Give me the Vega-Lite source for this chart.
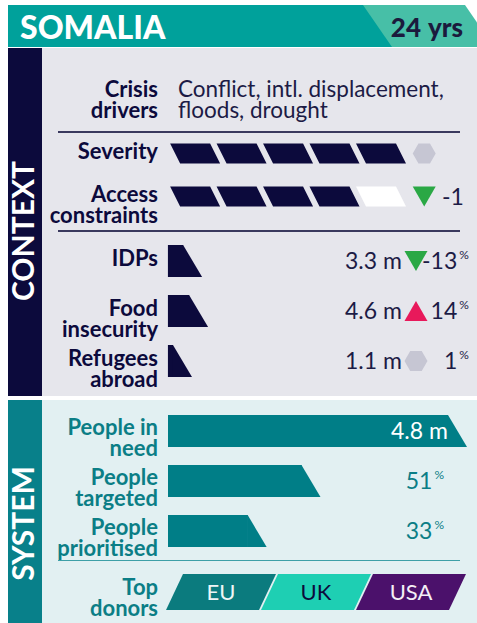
{
  "$schema": "https://vega.github.io/schema/vega-lite/v6.json",
  "padding": {"left": 8, "top": 5, "right": 0, "bottom": 0},
  "background": "#ffffff",
  "config": {"view": {"stroke": null}, "font": "Lato"},
  "resolve": {"scale": {"color": "independent", "fill": "independent", "shape": "independent"}},
  "datasets": {
    "header": [{"country": "SOMALIA", "years": 24}],
    "sections": [{"section": "CONTEXT"}, {"section": "SYSTEM"}],
    "separators": [{"section": "CONTEXT"}],
    "drivers": [{"indicator": "Crisis\ndrivers", "drivers": "Conflict, intl. displacement,\nfloods, drought"}],
    "levels": [
      {"indicator": "Severity", "level": 5, "trend": "stable"},
      {"indicator": "Access\nconstraints", "level": 4, "change": -1, "trend": "down"}
    ],
    "segments": [
      {"indicator": "Severity", "step": 1, "status": "filled"},
      {"indicator": "Severity", "step": 2, "status": "filled"},
      {"indicator": "Severity", "step": 3, "status": "filled"},
      {"indicator": "Severity", "step": 4, "status": "filled"},
      {"indicator": "Severity", "step": 5, "status": "filled"},
      {"indicator": "Access\nconstraints", "step": 1, "status": "filled"},
      {"indicator": "Access\nconstraints", "step": 2, "status": "filled"},
      {"indicator": "Access\nconstraints", "step": 3, "status": "filled"},
      {"indicator": "Access\nconstraints", "step": 4, "status": "filled"},
      {"indicator": "Access\nconstraints", "step": 5, "status": "empty"}
    ],
    "displacement": [
      {"indicator": "IDPs", "people": 3.3, "change": -13, "trend": "down"},
      {"indicator": "Food\ninsecurity", "people": 4.6, "change": 14, "trend": "up"},
      {"indicator": "Refugees\nabroad", "people": 1.1, "change": 1, "trend": "stable"}
    ],
    "system": [
      {"indicator": "People in\nneed", "share": 100, "people": 4.8},
      {"indicator": "People\ntargeted", "share": 51},
      {"indicator": "People\nprioritised", "share": 33}
    ],
    "donors": [
      {"rank": 1, "donor": "EU"},
      {"rank": 2, "donor": "UK"},
      {"rank": 3, "donor": "USA"}
    ],
    "donorLabel": [{"indicator": "Top\ndonors"}]
  },
  "vconcat": [
    {
      "vconcat": [
        {
          "width": 469, "height": 42,
          "data": {"name": "header"},
          "layer": [
            {"mark": {"type": "point", "shape": "M0,-21L362,-21L391,21L0,21Z", "size": 4, "filled": true, "fill": "#00a19b", "opacity": 1, "strokeWidth": 0},
             "encoding": {"x": {"datum": 0, "type": "quantitative", "scale": {"domain": [0, 1], "nice": false, "zero": false}, "axis": null}}},
            {"mark": {"type": "point", "shape": "M-114,-21L-12,-21L0,-3.6L0,21L-85,21Z", "size": 4, "filled": true, "fill": "#47bfa7", "opacity": 1, "strokeWidth": 0},
             "encoding": {"x": {"datum": 1, "type": "quantitative", "axis": null}}},
            {"mark": {"type": "text", "align": "left", "baseline": "middle", "dx": 12, "dy": 3, "fontSize": 32, "fontWeight": 900, "fill": "#ffffff"},
             "encoding": {"x": {"datum": 0, "type": "quantitative", "axis": null}, "text": {"field": "country", "type": "nominal"}}},
            {"mark": {"type": "text", "align": "right", "baseline": "middle", "dx": -56, "dy": 3, "fontSize": 26, "fontWeight": 900, "fill": "#1b1a3d"},
             "encoding": {"x": {"datum": 1, "type": "quantitative", "axis": null}, "text": {"field": "years", "type": "nominal"}}},
            {"mark": {"type": "text", "align": "right", "baseline": "middle", "dx": -14, "dy": 3, "fontSize": 26, "fontWeight": 900, "fill": "#1b1a3d", "text": "yrs"},
             "encoding": {"x": {"datum": 1, "type": "quantitative", "axis": null}}}
          ]
        },
        {
          "hconcat": [
            {
              "width": 34, "height": 348,
              "view": {"fill": "#0c0a3c", "stroke": null},
              "data": {"name": "sections"},
              "transform": [{"filter": "datum.section == 'CONTEXT'"}],
              "mark": {"type": "text", "angle": 270, "baseline": "middle", "align": "center", "fontSize": 30, "fontWeight": "bold", "fill": "#ffffff", "dx": -9},
              "encoding": {"text": {"field": "section", "type": "nominal"}}
            },
            {
              "vconcat": [
                {
                  "width": 435, "height": 83,
                  "view": {"fill": "#e6e6ec", "stroke": null},
                  "data": {"name": "drivers"},
                  "layer": [
                    {"mark": {"type": "text", "align": "right", "baseline": "middle", "lineBreak": "\n", "lineHeight": 21, "fontSize": 22, "fontWeight": "bold", "fill": "#0c0a3c", "dy": 0},
                     "encoding": {"x": {"datum": 0, "type": "quantitative", "scale": {"domain": [0, 1], "range": [116, 136], "nice": false, "zero": false}, "axis": null},
                                  "text": {"field": "indicator", "type": "nominal"}}},
                    {"mark": {"type": "text", "align": "left", "baseline": "middle", "lineBreak": "\n", "lineHeight": 21, "fontSize": 22.5, "fontWeight": "normal", "fill": "#1c1b45", "dy": 0},
                     "encoding": {"x": {"datum": 1, "type": "quantitative", "axis": null},
                                  "text": {"field": "drivers", "type": "nominal"}}}
                  ]
                },
                {
                  "width": 435, "height": 2,
                  "view": {"fill": "#e6e6ec", "stroke": null},
                  "data": {"name": "separators"},
                  "mark": {"type": "rect", "color": "#3a395e"},
                  "encoding": {
                    "x": {"datum": 0, "type": "quantitative", "scale": {"domain": [0, 1], "range": [16, 418], "nice": false, "zero": false}, "axis": null},
                    "x2": {"datum": 1}
                  }
                },
                {
                  "width": 435, "height": 97,
                  "view": {"fill": "#e6e6ec", "stroke": null},
                  "layer": [
                    {"data": {"name": "segments"},
                     "mark": {"type": "point", "shape": "M-25,-10L15,-10L25,10L-15,10Z", "size": 4, "filled": true, "opacity": 1, "strokeWidth": 0},
                     "encoding": {
                       "x": {"field": "step", "type": "quantitative", "scale": {"domain": [-1.95, 6.7], "range": [16, 418], "nice": false, "zero": false}, "axis": null},
                       "y": {"field": "indicator", "type": "nominal", "scale": {"type": "point", "domain": ["Severity", "Access\nconstraints"], "range": [20.5, 63.5], "padding": 0}, "axis": null},
                       "fill": {"field": "status", "type": "nominal", "scale": {"domain": ["filled", "empty"], "range": ["#0c0a3c", "#ffffff"]}, "legend": null}
                     }},
                    {"data": {"name": "levels"},
                     "mark": {"type": "point", "size": 4, "filled": true, "opacity": 1, "strokeWidth": 0},
                     "encoding": {
                       "x": {"datum": 5.93, "type": "quantitative", "axis": null},
                       "y": {"field": "indicator", "type": "nominal", "axis": null},
                       "shape": {"field": "trend", "type": "nominal", "scale": {"domain": ["down", "up", "stable"], "range": ["M-11.5,-10L11.5,-10L0,10Z", "M-11.5,10L11.5,10L0,-10Z", "M-11.5,0L-5.75,-10L5.75,-10L11.5,0L5.75,10L-5.75,10Z"]}, "legend": null},
                       "color": {"field": "trend", "type": "nominal", "scale": {"domain": ["down", "up", "stable"], "range": ["#2aa845", "#e8195b", "#c6c6d3"]}, "legend": null}
                     }},
                    {"data": {"name": "levels"},
                     "mark": {"type": "text", "align": "right", "baseline": "middle", "lineBreak": "\n", "lineHeight": 21, "fontSize": 22, "fontWeight": "bold", "fill": "#0c0a3c", "dy": -2},
                     "encoding": {
                       "x": {"datum": 0.2, "type": "quantitative", "axis": null},
                       "y": {"field": "indicator", "type": "nominal", "axis": null},
                       "text": {"field": "indicator", "type": "nominal"}
                     }},
                    {"data": {"name": "levels"},
                     "transform": [{"filter": "isValid(datum.change)"}],
                     "mark": {"type": "text", "align": "left", "baseline": "middle", "fontSize": 23, "fontWeight": "normal", "fill": "#1c1b45", "dy": 1},
                     "encoding": {
                       "x": {"datum": 6.31, "type": "quantitative", "axis": null},
                       "y": {"field": "indicator", "type": "nominal", "axis": null},
                       "text": {"field": "change", "type": "nominal"}
                     }}
                  ]
                },
                {
                  "width": 435, "height": 2,
                  "view": {"fill": "#e6e6ec", "stroke": null},
                  "data": {"name": "separators"},
                  "mark": {"type": "rect", "color": "#3a395e"},
                  "encoding": {
                    "x": {"datum": 0, "type": "quantitative", "scale": {"domain": [0, 1], "range": [16, 418], "nice": false, "zero": false}, "axis": null},
                    "x2": {"datum": 1}
                  }
                },
                {
                  "width": 435, "height": 164,
                  "view": {"fill": "#e6e6ec", "stroke": null},
                  "data": {"name": "displacement"},
                  "layer": [
                    {"mark": {"type": "bar", "color": "#0c0a3c"},
                     "encoding": {
                       "x": {"field": "people", "type": "quantitative", "scale": {"domain": [-23.9, 63.5], "range": [16, 418], "nice": false, "zero": false}, "axis": null},
                       "x2": {"datum": 0},
                       "y": {"field": "indicator", "type": "nominal", "scale": {"type": "band", "domain": ["IDPs", "Food\ninsecurity", "Refugees\nabroad"], "range": [4, 154], "paddingInner": 0.36, "paddingOuter": 0.18}, "axis": null}
                     }},
                    {"mark": {"type": "point", "shape": "M-0.6,-16L0,-16L19,16L-0.6,16Z", "size": 4, "filled": true, "opacity": 1, "strokeWidth": 0, "fill": "#0c0a3c"},
                     "encoding": {
                       "x": {"field": "people", "type": "quantitative", "axis": null},
                       "y": {"field": "indicator", "type": "nominal", "axis": null}
                     }},
                    {"mark": {"type": "text", "align": "right", "baseline": "middle", "lineBreak": "\n", "lineHeight": 21, "fontSize": 22, "fontWeight": "bold", "fill": "#0c0a3c", "dy": -2},
                     "encoding": {
                       "x": {"datum": -2.16, "type": "quantitative", "axis": null},
                       "y": {"field": "indicator", "type": "nominal", "axis": null},
                       "text": {"field": "indicator", "type": "nominal"}
                     }},
                    {"mark": {"type": "text", "align": "right", "baseline": "middle", "fontSize": 23, "fontWeight": "normal", "fill": "#1c1b45", "dy": 1},
                     "encoding": {
                       "x": {"datum": 45.46, "type": "quantitative", "axis": null},
                       "y": {"field": "indicator", "type": "nominal", "axis": null},
                       "text": {"field": "people", "type": "nominal"}
                     }},
                    {"mark": {"type": "text", "align": "right", "baseline": "middle", "fontSize": 23, "fontWeight": "normal", "fill": "#1c1b45", "dy": 1, "text": "m"},
                     "encoding": {
                       "x": {"datum": 50.89, "type": "quantitative", "axis": null},
                       "y": {"field": "indicator", "type": "nominal", "axis": null}
                     }},
                    {"mark": {"type": "point", "size": 4, "filled": true, "opacity": 1, "strokeWidth": 0},
                     "encoding": {
                       "x": {"datum": 53.93, "type": "quantitative", "axis": null},
                       "y": {"field": "indicator", "type": "nominal", "axis": null},
                       "shape": {"field": "trend", "type": "nominal", "scale": {"domain": ["down", "up", "stable"], "range": ["M-11.5,-10L11.5,-10L0,10Z", "M-11.5,10L11.5,10L0,-10Z", "M-11.5,0L-5.75,-10L5.75,-10L11.5,0L5.75,10L-5.75,10Z"]}, "legend": null},
                       "color": {"field": "trend", "type": "nominal", "scale": {"domain": ["down", "up", "stable"], "range": ["#2aa845", "#e8195b", "#c6c6d3"]}, "legend": null}
                     }},
                    {"mark": {"type": "text", "align": "right", "baseline": "middle", "fontSize": 23, "fontWeight": "normal", "fill": "#1c1b45", "dy": 1},
                     "encoding": {
                       "x": {"datum": 62.9, "type": "quantitative", "axis": null},
                       "y": {"field": "indicator", "type": "nominal", "axis": null},
                       "text": {"field": "change", "type": "nominal"}
                     }},
                    {"mark": {"type": "text", "align": "left", "baseline": "middle", "fontSize": 12, "fontWeight": "normal", "fill": "#1c1b45", "dy": -6, "text": "%"},
                     "encoding": {
                       "x": {"datum": 63.35, "type": "quantitative", "axis": null},
                       "y": {"field": "indicator", "type": "nominal", "axis": null}
                     }}
                  ]
                }
              ],
              "spacing": 0,
              "bounds": "flush"
            }
          ],
          "spacing": 0
        }
      ],
      "spacing": 1
    },
    {
      "hconcat": [
        {
          "width": 34, "height": 223,
          "view": {"fill": "#08808a", "stroke": null},
          "data": {"name": "sections"},
          "transform": [{"filter": "datum.section == 'SYSTEM'"}],
          "mark": {"type": "text", "angle": 270, "baseline": "middle", "align": "center", "fontSize": 30, "fontWeight": "bold", "fill": "#ffffff", "dx": -12},
          "encoding": {"text": {"field": "section", "type": "nominal"}}
        },
        {
          "vconcat": [
            {
              "width": 435, "height": 160,
              "view": {"fill": "#e2f0f2", "stroke": null},
              "data": {"name": "system"},
              "layer": [
                {"mark": {"type": "bar", "color": "#007e87", "xOffset": -19},
                 "encoding": {
                   "x": {"field": "share", "type": "quantitative", "scale": {"domain": [0, 100], "range": [126, 425], "nice": false, "zero": false}, "axis": null},
                   "x2": {"datum": 0},
                   "y": {"field": "indicator", "type": "nominal", "scale": {"type": "band", "domain": ["People in\nneed", "People\ntargeted", "People\nprioritised"], "range": [6, 156], "paddingInner": 0.36, "paddingOuter": 0.18}, "axis": null}
                 }},
                {"mark": {"type": "point", "shape": "M-19.6,-16L-19,-16L0,16L-19.6,16Z", "size": 4, "filled": true, "opacity": 1, "strokeWidth": 0, "fill": "#007e87"},
                 "encoding": {
                   "x": {"field": "share", "type": "quantitative", "axis": null},
                   "y": {"field": "indicator", "type": "nominal", "axis": null}
                 }},
                {"mark": {"type": "text", "align": "right", "baseline": "middle", "lineBreak": "\n", "lineHeight": 21, "fontSize": 22, "fontWeight": "bold", "fill": "#0b7e86", "dy": -3},
                 "encoding": {
                   "x": {"datum": -3.34, "type": "quantitative", "axis": null},
                   "y": {"field": "indicator", "type": "nominal", "axis": null},
                   "text": {"field": "indicator", "type": "nominal"}
                 }},
                {"transform": [{"filter": "isValid(datum.people)"}],
                 "mark": {"type": "text", "align": "right", "baseline": "middle", "fontSize": 23, "fontWeight": "normal", "fill": "#ffffff", "dy": 1},
                 "encoding": {
                   "x": {"datum": 85.28, "type": "quantitative", "axis": null},
                   "y": {"field": "indicator", "type": "nominal", "axis": null},
                   "text": {"field": "people", "type": "nominal"}
                 }},
                {"transform": [{"filter": "isValid(datum.people)"}],
                 "mark": {"type": "text", "align": "right", "baseline": "middle", "fontSize": 23, "fontWeight": "normal", "fill": "#ffffff", "dy": 1, "text": "m"},
                 "encoding": {
                   "x": {"datum": 93.65, "type": "quantitative", "axis": null},
                   "y": {"field": "indicator", "type": "nominal", "axis": null}
                 }},
                {"transform": [{"filter": "datum.share < 100"}],
                 "mark": {"type": "text", "align": "right", "baseline": "middle", "fontSize": 23, "fontWeight": "normal", "fill": "#0b7e86", "dy": 1},
                 "encoding": {
                   "x": {"datum": 88.4, "type": "quantitative", "axis": null},
                   "y": {"field": "indicator", "type": "nominal", "axis": null},
                   "text": {"field": "share", "type": "nominal"}
                 }},
                {"transform": [{"filter": "datum.share < 100"}],
                 "mark": {"type": "text", "align": "left", "baseline": "middle", "fontSize": 12, "fontWeight": "normal", "fill": "#0b7e86", "dy": -6, "text": "%"},
                 "encoding": {
                   "x": {"datum": 89.1, "type": "quantitative", "axis": null},
                   "y": {"field": "indicator", "type": "nominal", "axis": null}
                 }}
              ]
            },
            {
              "width": 435, "height": 1,
              "view": {"fill": "#e2f0f2", "stroke": null},
              "data": {"name": "separators"},
              "mark": {"type": "rect", "color": "#3d9fa7"},
              "encoding": {
                "x": {"datum": 0, "type": "quantitative", "scale": {"domain": [0, 1], "range": [16, 418], "nice": false, "zero": false}, "axis": null},
                "x2": {"datum": 1}
              }
            },
            {
              "width": 435, "height": 62,
              "view": {"fill": "#e2f0f2", "stroke": null},
              "layer": [
                {"data": {"name": "donors"},
                 "mark": {"type": "point", "shape": "M-38,-18L55,-18L38,18L-55,18Z", "size": 4, "filled": true, "opacity": 1, "strokeWidth": 0},
                 "encoding": {
                   "x": {"field": "rank", "type": "quantitative", "scale": {"domain": [-0.716, 3.516], "range": [16, 418], "nice": false, "zero": false}, "axis": null},
                   "fill": {"field": "donor", "type": "nominal", "scale": {"domain": ["EU", "UK", "USA"], "range": ["#0b7b7e", "#1ecfb3", "#4b116b"]}, "legend": null}
                 }},
                {"data": {"name": "donors"},
                 "mark": {"type": "text", "align": "center", "baseline": "middle", "fontSize": 22, "fontWeight": "normal", "dy": 1},
                 "encoding": {
                   "x": {"field": "rank", "type": "quantitative", "axis": null},
                   "text": {"field": "donor", "type": "nominal"},
                   "color": {"field": "donor", "type": "nominal", "scale": {"domain": ["EU", "UK", "USA"], "range": ["#eef6f6", "#0c0a3c", "#f4eef6"]}, "legend": null}
                 }},
                {"data": {"name": "donorLabel"},
                 "mark": {"type": "text", "align": "right", "baseline": "middle", "lineBreak": "\n", "lineHeight": 21, "fontSize": 22, "fontWeight": "bold", "fill": "#0b7e86", "dy": -4},
                 "encoding": {
                   "x": {"datum": 0.337, "type": "quantitative", "axis": null},
                   "text": {"field": "indicator", "type": "nominal"}
                 }}
              ]
            }
          ],
          "spacing": 0,
          "bounds": "flush"
        }
      ],
      "spacing": 0
    }
  ],
  "spacing": 4
}
